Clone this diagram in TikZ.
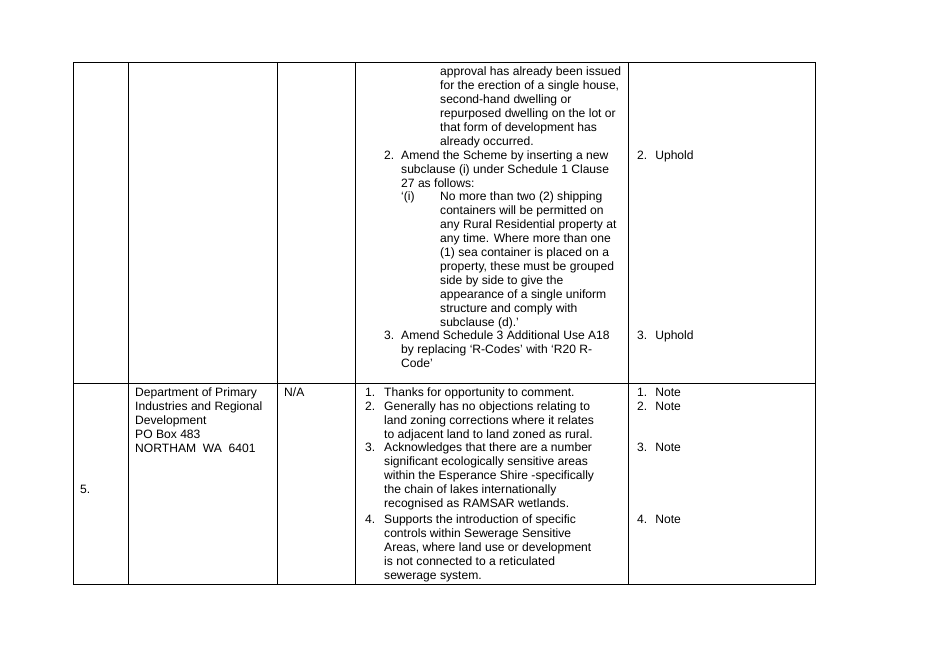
\documentclass[tikz,border=0pt]{standalone}
\usepackage{fontspec}
\setmainfont{Liberation Sans}
\begin{document}
\begin{tikzpicture}[x=1pt,y=-1pt,
  cell/.style={anchor=north west,inner sep=0pt,align=left,yshift=-2pt,font=\fontsize{12.1}{13.95}\selectfont},
  rule/.style={line width=0.6pt}]
\useasboundingbox (0,0) rectangle (928,656);

%Shape: table frame
\draw [rule] (73,62) rectangle (815,584);
\draw [rule] (73,383) -- (815,383);
\foreach \cx in {128,277,355,628}
  \draw [rule] (\cx,62) -- (\cx,584);

% Text Node: upper row, comments
\node (tail) [cell] at (440,65) {approval has already been issued\\for the erection of a single house,\\second-hand dwelling or\\repurposed dwelling on the lot or\\that form of development has\\already occurred.};
\node (ntwo) [cell] at (384,149) {2.};
\node (amend) [cell] at (401,149) {Amend the Scheme by inserting a new\\subclause (i) under Schedule 1 Clause\\27 as follows:};
\node (subi) [cell] at (401,190) {‘(i)};
\node (cont) [cell] at (440,190) {No more than two (2) shipping\\containers will be permitted on\\any Rural Residential property at\\any time. Where more than one\\(1) sea container is placed on a\\property, these must be grouped\\side by side to give the\\appearance of a single uniform\\structure and comply with\\subclause (d).’};
\node (nthree) [cell] at (384,329) {3.};
\node (sched) [cell] at (401,329) {Amend Schedule 3 Additional Use A18\\by replacing ‘R-Codes’ with ‘R20 R-\\Code’};
% Text Node: upper row, recommendations
\node (upa) [cell] at (637,149) {2.\hspace{8pt}Uphold};
\node (upb) [cell] at (637,329) {3.\hspace{8pt}Uphold};

% Text Node: lower row
\node (num) [cell] at (80,483) {5.};
\node (dept) [cell] at (135,386) {Department of Primary\\Industries and Regional\\Development\\PO Box 483\\NORTHAM\ \ WA\ \ 6401};
\node (na) [cell] at (284,386) {N/A};
\node (ia) [cell] at (365,386) {1.};
\node (ta) [cell] at (384,386) {Thanks for opportunity to comment.};
\node (ib) [cell] at (365,400) {2.};
\node (tb) [cell] at (384,400) {Generally has no objections relating to\\land zoning corrections where it relates\\to adjacent land to land zoned as rural.};
\node (ic) [cell] at (365,441) {3.};
\node (tc) [cell] at (384,441) {Acknowledges that there are a number\\significant ecologically sensitive areas\\within the Esperance Shire -specifically\\the chain of lakes internationally\\recognised as RAMSAR wetlands.};
\node (id) [cell] at (365,513) {4.};
\node (td) [cell] at (384,513) {Supports the introduction of specific\\controls within Sewerage Sensitive\\Areas, where land use or development\\is not connected to a reticulated\\sewerage system.};
\node (na1) [cell] at (637,386) {1.\hspace{8pt}Note};
\node (na2) [cell] at (637,400) {2.\hspace{8pt}Note};
\node (na3) [cell] at (637,441) {3.\hspace{8pt}Note};
\node (na4) [cell] at (637,513) {4.\hspace{8pt}Note};
\end{tikzpicture}
\end{document}
